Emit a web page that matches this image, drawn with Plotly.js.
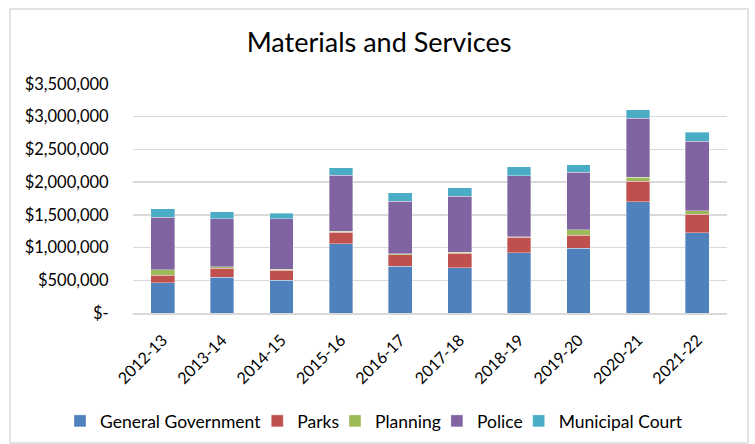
<!DOCTYPE html>
<html>
<head>
<meta charset="utf-8">
<script src="https://cdn.plot.ly/plotly-3.0.1.min.js"></script>
<style>
  html, body { margin: 0; padding: 0; background: #fff; }
  #chart { width: 755px; height: 444px; }
</style>
</head>
<body>
<div id="chart"></div>
<script>
const categories = ["2012-13","2013-14","2014-15","2015-16","2016-17","2017-18","2018-19","2019-20","2020-21","2021-22"];
const generalGovernment = [459000, 544000, 504000, 1055000, 718000, 688000, 922000, 988000, 1702000, 1223000];
const parks = [116000, 138000, 147000, 177000, 169000, 223000, 234000, 199000, 310000, 285000];
const planning = [87000, 26000, 16000, 16000, 20000, 16000, 11000, 87000, 61000, 52000];
const police = [800000, 729000, 770000, 856000, 800000, 856000, 932000, 876000, 903000, 1064000];
const municipalCourt = [128000, 112000, 86000, 118000, 133000, 128000, 133000, 118000, 128000, 137000];
const yTickVals = [0, 500000, 1000000, 1500000, 2000000, 2500000, 3000000, 3500000];
const yTickText = ["$-", "$500,000", "$1,000,000", "$1,500,000", "$2,000,000", "$2,500,000", "$3,000,000", "$3,500,000"];

const seriesNames = ["General Government", "Parks", "Planning", "Police", "Municipal Court"];
const seriesData = [generalGovernment, parks, planning, police, municipalCourt];
const colors = ["#4F81BD", "#C0504D", "#9BBB59", "#8064A2", "#4BACC6"];

const FONT = "Lato, 'Open Sans', sans-serif";

const traces = seriesNames.map((name, i) => ({
  type: "bar",
  name: name,
  x: categories,
  y: seriesData[i],
  marker: { color: colors[i], line: { color: "rgba(255,255,255,0.6)", width: 0.6 } },
  hoverinfo: "x+y+name"
}));

const L = 133, R = 28, T = 84, B = 131;
const W = 755, H = 444;
const pw = W - L - R, ph = H - T - B;

const layout = {
  width: W, height: H,
  margin: { l: L, r: R, t: T, b: B, pad: 0, autoexpand: false },
  paper_bgcolor: "#ffffff",
  plot_bgcolor: "#ffffff",
  barmode: "stack",
  bargap: 0.6,
  font: { family: FONT, color: "#000000", size: 15 },
  title: {
    text: "Materials and Services",
    font: { family: FONT, size: 27, color: "#000000" },
    x: 379 / W, xanchor: "center",
    y: 1 - 43 / H, yanchor: "middle"
  },
  xaxis: {
    type: "category",
    automargin: false,
    tickangle: -45,
    tickfont: { family: FONT, size: 16, color: "#000000" },
    ticks: "outside", ticklen: 10, tickcolor: "rgba(0,0,0,0)",
    showline: true, linecolor: "#d9d9d9", linewidth: 1.5,
    showgrid: false, zeroline: false
  },
  yaxis: {
    automargin: false,
    range: [0, 3500000],
    tickvals: yTickVals,
    ticktext: yTickText,
    tickfont: { family: FONT, size: 16.5, color: "#000000" },
    ticks: "outside", ticklen: 20, tickcolor: "rgba(0,0,0,0)",
    showgrid: true, gridcolor: "#d9d9d9", gridwidth: 1.5,
    zeroline: false, showline: false
  },
  showlegend: true,
  legend: {
    orientation: "h",
    xref: "paper", yref: "paper",
    x: (69 - L) / pw, xanchor: "left",
    y: (T + ph - 421) / ph, yanchor: "middle",
    font: { family: FONT, size: 17.5, color: "#000000" },
    traceorder: "normal",
    itemwidth: 30,
    indentation: -9,
    bgcolor: "rgba(0,0,0,0)"
  },
  shapes: [{
    type: "rect", xref: "paper", yref: "paper", layer: "above",
    x0: (10 - L) / pw, x1: (748 - L) / pw,
    y0: (T + ph - 443) / ph, y1: (T + ph - 9) / ph,
    line: { color: "#d9d9d9", width: 1.5 }, fillcolor: "rgba(0,0,0,0)"
  }]
};

Plotly.newPlot("chart", traces, layout, { displayModeBar: false, staticPlot: true });
</script>
</body>
</html>
